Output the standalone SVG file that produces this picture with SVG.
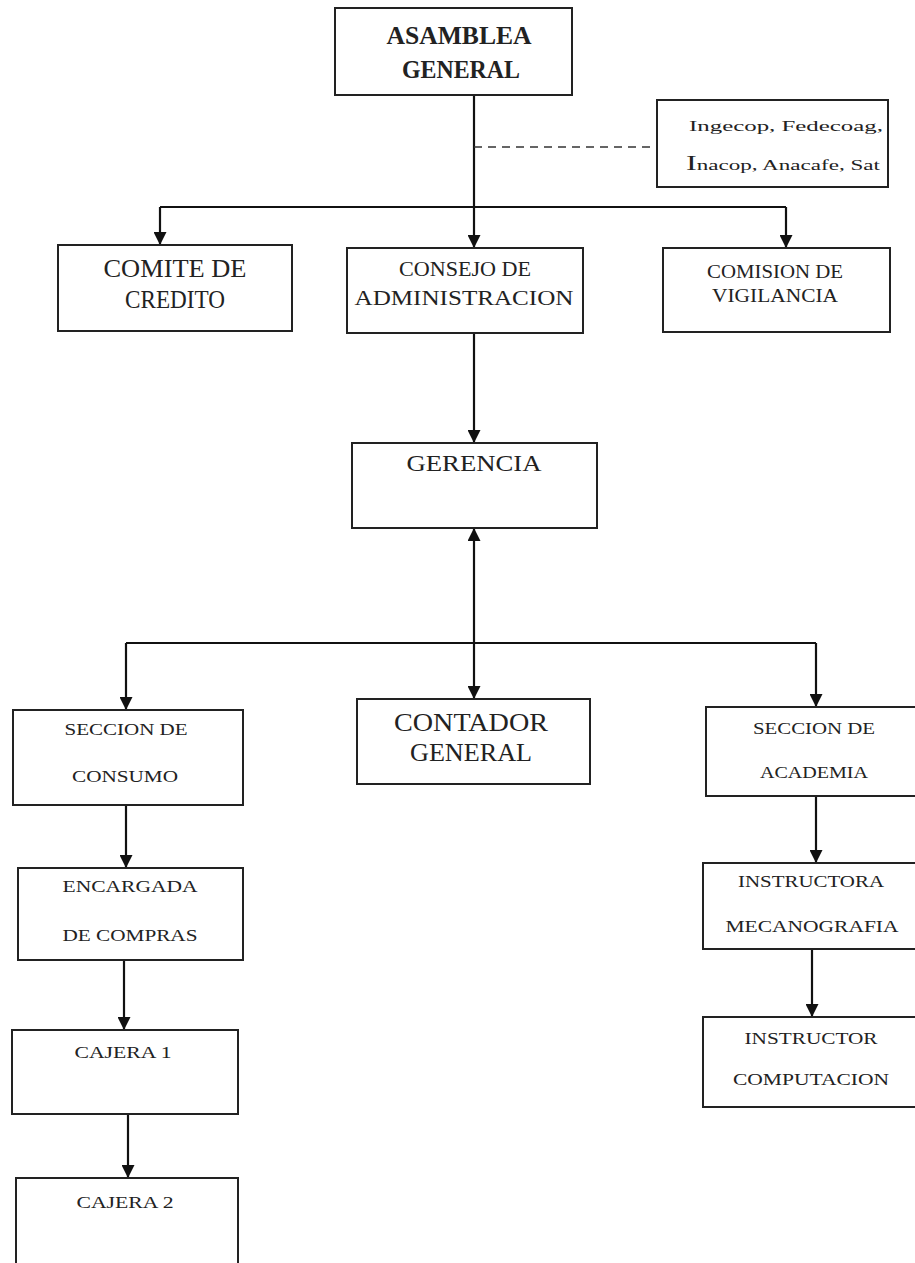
<svg xmlns="http://www.w3.org/2000/svg" width="915" height="1263" viewBox="0 0 915 1263">
<style>
.box{fill:#fff;stroke:#222;stroke-width:2}
.t{font-family:'Liberation Serif','DejaVu Serif','Times New Roman',serif;fill:#222;text-anchor:middle}
.ln{fill:none;stroke:#111;stroke-width:2.2}
.dash{fill:none;stroke:#333;stroke-width:1.6;stroke-dasharray:8 6}
</style>
<defs>
<marker id="arr" markerUnits="userSpaceOnUse" markerWidth="13" markerHeight="13" refX="13" refY="6.5" orient="auto-start-reverse">
<path d="M0,0 L13,6.5 L0,13 z" fill="#111"/>
</marker>
</defs>
<rect width="915" height="1263" fill="#fff"/>
<g id="connectors">
<path class="ln" d="M474,95 V248" marker-end="url(#arr)"/>
<path class="dash" d="M474,147 H657"/>
<path class="ln" d="M160,207 H786"/>
<path class="ln" d="M160,207 V245" marker-end="url(#arr)"/>
<path class="ln" d="M786,207 V248" marker-end="url(#arr)"/>
<path class="ln" d="M474,333 V443" marker-end="url(#arr)"/>
<path class="ln" d="M474,528 V699" marker-start="url(#arr)" marker-end="url(#arr)"/>
<path class="ln" d="M126,643 H816"/>
<path class="ln" d="M126,643 V710" marker-end="url(#arr)"/>
<path class="ln" d="M816,643 V707" marker-end="url(#arr)"/>
<path class="ln" d="M126,805 V868" marker-end="url(#arr)"/>
<path class="ln" d="M124,960 V1030" marker-end="url(#arr)"/>
<path class="ln" d="M128,1114 V1178" marker-end="url(#arr)"/>
<path class="ln" d="M816,796 V863" marker-end="url(#arr)"/>
<path class="ln" d="M812,949 V1017" marker-end="url(#arr)"/>
</g>
<g id="asamblea">
<rect class="box" x="335" y="8" width="237" height="87"/>
<text class="t" x="459" y="44" font-size="26" font-weight="bold" textLength="145" lengthAdjust="spacingAndGlyphs">ASAMBLEA</text>
<text class="t" x="461" y="78" font-size="26" font-weight="bold" textLength="118" lengthAdjust="spacingAndGlyphs">GENERAL</text>
</g>
<g id="entidades">
<rect class="box" x="657" y="100" width="231" height="87"/>
<text class="t" x="786" y="131" font-size="15" textLength="194" lengthAdjust="spacingAndGlyphs">Ingecop, Fedecoag,</text>
<text class="t" x="783" y="170" font-size="15" textLength="194" lengthAdjust="spacingAndGlyphs"><tspan font-size="21">I</tspan>nacop, Anacafe, Sat</text>
</g>
<g id="comite">
<rect class="box" x="58" y="245" width="234" height="86"/>
<text class="t" x="175" y="277" font-size="25" textLength="143" lengthAdjust="spacingAndGlyphs">COMITE DE</text>
<text class="t" x="175" y="308" font-size="25" textLength="100" lengthAdjust="spacingAndGlyphs">CREDITO</text>
</g>
<g id="consejo">
<rect class="box" x="347" y="248" width="236" height="85"/>
<text class="t" x="465" y="276" font-size="22" textLength="132" lengthAdjust="spacingAndGlyphs">CONSEJO DE</text>
<text class="t" x="464" y="305" font-size="22" textLength="219" lengthAdjust="spacingAndGlyphs">ADMINISTRACION</text>
</g>
<g id="comision">
<rect class="box" x="663" y="248" width="227" height="84"/>
<text class="t" x="775" y="278" font-size="18" textLength="136" lengthAdjust="spacingAndGlyphs">COMISION DE</text>
<text class="t" x="775" y="302" font-size="18" textLength="126" lengthAdjust="spacingAndGlyphs">VIGILANCIA</text>
</g>
<g id="gerencia">
<rect class="box" x="352" y="443" width="245" height="85"/>
<text class="t" x="474" y="471" font-size="24" textLength="135" lengthAdjust="spacingAndGlyphs">GERENCIA</text>
</g>
<g id="contador">
<rect class="box" x="357" y="699" width="233" height="85"/>
<text class="t" x="471" y="731" font-size="26" textLength="154" lengthAdjust="spacingAndGlyphs">CONTADOR</text>
<text class="t" x="471" y="761" font-size="26" textLength="122" lengthAdjust="spacingAndGlyphs">GENERAL</text>
</g>
<g id="consumo">
<rect class="box" x="13" y="710" width="230" height="95"/>
<text class="t" x="126" y="735" font-size="16" textLength="123" lengthAdjust="spacingAndGlyphs">SECCION DE</text>
<text class="t" x="125" y="782" font-size="16" textLength="106" lengthAdjust="spacingAndGlyphs">CONSUMO</text>
</g>
<g id="encargada">
<rect class="box" x="18" y="868" width="225" height="92"/>
<text class="t" x="130" y="892" font-size="16" textLength="135" lengthAdjust="spacingAndGlyphs">ENCARGADA</text>
<text class="t" x="130" y="941" font-size="16" textLength="135" lengthAdjust="spacingAndGlyphs">DE COMPRAS</text>
</g>
<g id="cajera1">
<rect class="box" x="12" y="1030" width="226" height="84"/>
<text class="t" x="123" y="1058" font-size="16" textLength="97" lengthAdjust="spacingAndGlyphs">CAJERA 1</text>
</g>
<g id="cajera2">
<rect class="box" x="16" y="1178" width="222" height="95"/>
<text class="t" x="125" y="1208" font-size="16" textLength="97" lengthAdjust="spacingAndGlyphs">CAJERA 2</text>
</g>
<g id="academia">
<rect class="box" x="706" y="707" width="215" height="89"/>
<text class="t" x="814" y="734" font-size="16" textLength="122" lengthAdjust="spacingAndGlyphs">SECCION DE</text>
<text class="t" x="814" y="778" font-size="16" textLength="108" lengthAdjust="spacingAndGlyphs">ACADEMIA</text>
</g>
<g id="instructora">
<rect class="box" x="703" y="863" width="218" height="86"/>
<text class="t" x="811" y="887" font-size="16" textLength="146" lengthAdjust="spacingAndGlyphs">INSTRUCTORA</text>
<text class="t" x="812" y="932" font-size="16" textLength="173" lengthAdjust="spacingAndGlyphs">MECANOGRAFIA</text>
</g>
<g id="instructor">
<rect class="box" x="703" y="1017" width="218" height="90"/>
<text class="t" x="811" y="1044" font-size="16" textLength="133" lengthAdjust="spacingAndGlyphs">INSTRUCTOR</text>
<text class="t" x="811" y="1085" font-size="16" textLength="156" lengthAdjust="spacingAndGlyphs">COMPUTACION</text>
</g>
</svg>
